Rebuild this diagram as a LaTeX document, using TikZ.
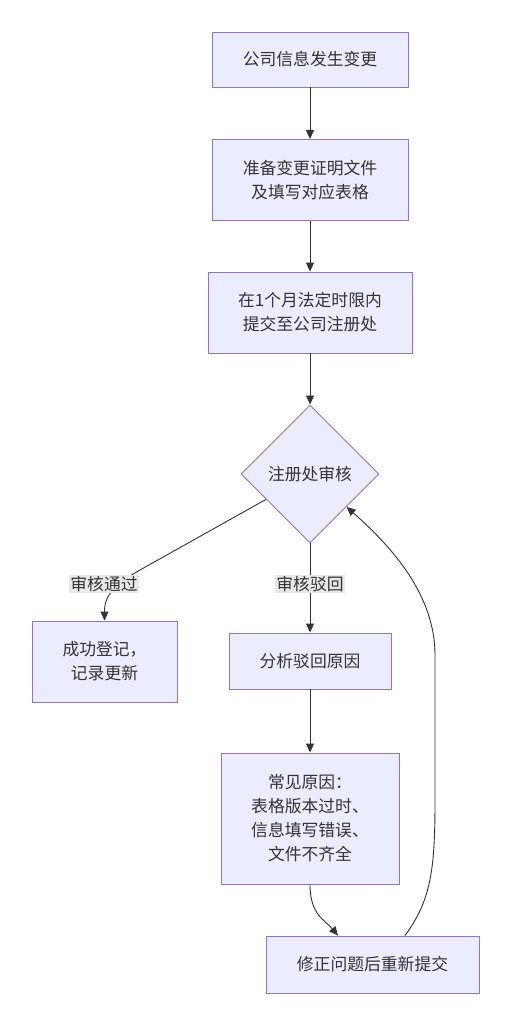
\documentclass[tikz,border=0pt]{standalone}
\usepackage{fontspec}
\setmainfont{Noto Sans CJK SC}
\usetikzlibrary{shapes.geometric,arrows.meta}

\definecolor{boxfill}{HTML}{ECECFF}
\definecolor{boxline}{HTML}{9370DB}
\definecolor{ink}{HTML}{333333}
\definecolor{tagfill}{HTML}{E8E8E8}

\tikzset{
    stepbox/.style={draw=boxline, fill=boxfill, text=ink, line width=0.9pt,
        align=center, inner sep=0pt, font=\fontsize{16.8}{24}\selectfont},
    checkbox/.style={stepbox, shape=diamond, aspect=1, minimum width=138pt, minimum height=138pt},
    tag/.style={fill=tagfill, text=ink, inner sep=1.5pt, font=\fontsize{16.8}{20}\selectfont},
    link/.style={draw=ink, line width=0.9pt, -{Triangle[length=9pt,width=8pt]}}
}

\begin{document}
\begin{tikzpicture}[x=1pt,y=-1pt]
    \useasboundingbox (0,0) rectangle (510,1024);
    \node [stepbox, minimum width=196pt, minimum height=55pt] (change) at (310,59.5) {公司信息发生变更};
    \node [stepbox, minimum width=196pt, minimum height=81pt] (prepare) at (310,180) {准备变更证明文件\\及填写对应表格};
    \node [stepbox, minimum width=204pt, minimum height=81pt] (submit) at (310,312.5) {在1个月法定时限内\\提交至公司注册处};
    \node [checkbox] (check) at (310,474) {注册处审核};
    \node [stepbox, minimum width=145pt, minimum height=81pt] (done) at (104.5,661.5) {成功登记，\\记录更新};
    \node [stepbox, minimum width=162pt, minimum height=56pt] (analyse) at (310,661) {分析驳回原因};
    \node [stepbox, minimum width=178pt, minimum height=131pt] (reasons) at (310,818.5) {常见原因：\\表格版本过时、\\信息填写错误、\\文件不齐全};
    \node [stepbox, minimum width=213pt, minimum height=57pt] (resubmit) at (372.5,964.5) {修正问题后重新提交};

    \draw [link] (change) -- (prepare);
    \draw [link] (prepare) -- (submit);
    \draw [link] (submit) -- (check);
    \draw [link] (check.210) -- (140,570) .. controls (108,588) and (104.5,600) .. (done.north);
    \draw [link] (check.south) -- (analyse.north);
    \draw [link] (analyse) -- (reasons);
    \draw [link] (reasons.south) .. controls (310,915) and (325,920) .. ([xshift=-34.5pt]resubmit.north);
    \draw [link] ([xshift=32.5pt]resubmit.north) .. controls (431,900) and (435,870) .. (435,800)
        -- (435,655) .. controls (435,595) and (392,547) .. (check.318);

    \node [tag] (pass) at (104,584) {审核通过};
    \node [tag] (reject) at (310,584) {审核驳回};
\end{tikzpicture}
\end{document}
